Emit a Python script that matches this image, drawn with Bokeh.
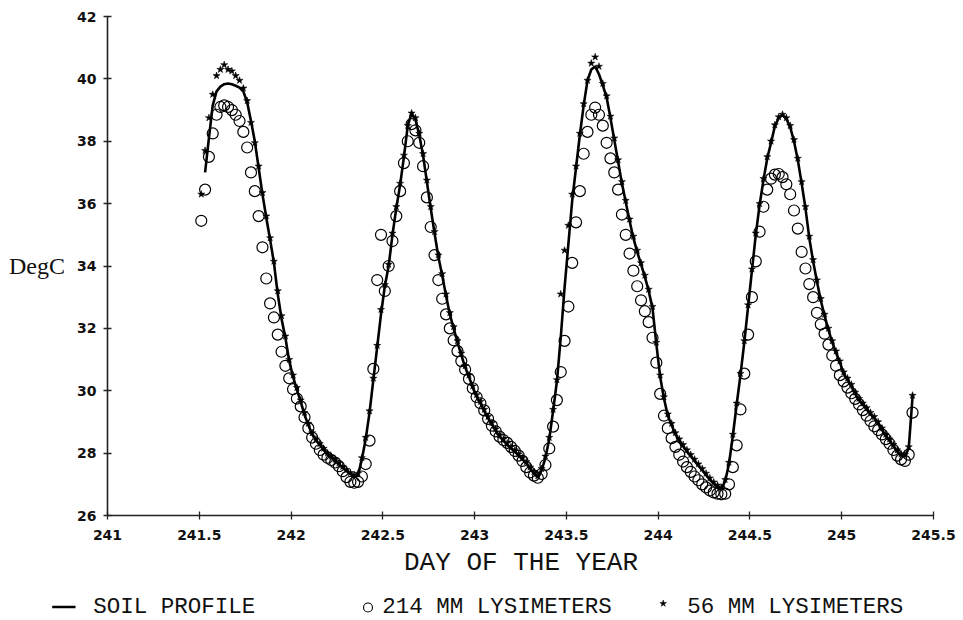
from bokeh.plotting import figure
from bokeh.models import Range1d, FixedTicker, ColumnDataSource, LinearAxis
from bokeh.core.properties import value
from bokeh.embed import file_html
from bokeh.resources import INLINE

# half-hourly sampling times (day of year)
day = [round(241.49 + k / 48, 4) for k in range(1, 188)]

soil_profile = [
    float("nan"), 37.0, 38.1, 39.15, 39.6, 39.75, 39.83, 39.85, 39.83, 39.78,
    39.72, 39.6, 39.25, 38.65, 38.0, 37.15, 36.3, 35.55, 34.85, 34.1,
    33.1, 32.3, 31.7, 30.95, 30.45, 30.03, 29.65, 29.23, 28.9, 28.6,
    28.42, 28.27, 28.1, 27.96, 27.86, 27.75, 27.64, 27.53, 27.43, 27.33,
    27.28, 27.3, 27.8, 28.45, 29.3, 30.35, 31.4, 32.45, 33.35, 34.0,
    35.0, 35.85, 36.6, 37.5, 38.5, 38.9, 38.7, 38.2, 37.55, 36.7,
    35.85, 35.05, 34.3, 33.7, 33.05, 32.45, 32.0, 31.55, 31.15, 30.75,
    30.45, 30.1, 29.82, 29.6, 29.35, 29.12, 28.92, 28.72, 28.53, 28.4,
    28.27, 28.15, 28.05, 27.92, 27.8, 27.68, 27.5, 27.35, 27.22, 27.45,
    27.85, 28.45, 29.35, 30.3, 31.7, 33.3, 34.7, 36.1, 37.15, 38.2,
    39.15, 39.95, 40.3, 40.4, 40.15, 39.8, 39.4, 38.75, 38.05, 37.35,
    36.65, 36.05, 35.45, 34.9, 34.45, 34.05, 33.65, 33.2, 32.65, 31.5,
    30.45, 29.75, 29.2, 28.9, 28.6, 28.4, 28.22, 28.05, 27.9, 27.75,
    27.6, 27.45, 27.3, 27.15, 27.02, 26.92, 26.85, 27.1, 27.65, 28.55,
    29.55, 30.5, 31.55, 32.7, 33.85, 35.0, 35.95, 36.75, 37.45, 37.95,
    38.48, 38.75, 38.84, 38.72, 38.45, 38.0, 37.4, 36.65, 35.85, 34.9,
    34.15, 33.5, 32.9, 32.4, 31.95, 31.55, 31.22, 30.9, 30.55, 30.35,
    30.15, 29.9, 29.7, 29.55, 29.4, 29.25, 29.12, 28.95, 28.75, 28.55,
    28.4, 28.22, 28.05, 27.92, 27.9, 28.15, 29.8,
]

lys_214 = [
    35.45, 36.45, 37.5, 38.25, 38.85, 39.1, 39.15, 39.1, 39.0, 38.85,
    38.65, 38.3, 37.8, 37.0, 36.4, 35.6, 34.6, 33.6, 32.8, 32.35,
    31.8, 31.25, 30.8, 30.4, 30.05, 29.75, 29.5, 29.15, 28.8, 28.5,
    28.3, 28.1, 27.95, 27.85, 27.78, 27.7, 27.58, 27.42, 27.23, 27.08,
    27.05, 27.08, 27.25, 27.65, 28.4, 30.7, 33.55, 35.0, 33.2, 34.0,
    34.8, 35.6, 36.4, 37.3, 38.0, 38.55, 38.35, 37.95, 37.2, 36.2,
    35.25, 34.35, 33.55, 32.95, 32.45, 32.0, 31.62, 31.27, 30.95, 30.68,
    30.38, 30.08, 29.8, 29.6, 29.37, 29.1, 28.88, 28.7, 28.53, 28.42,
    28.33, 28.2, 28.07, 27.92, 27.75, 27.55, 27.38, 27.28, 27.21, 27.33,
    27.62, 28.15, 28.85, 29.7, 30.6, 31.6, 32.7, 34.1, 35.4, 36.4,
    37.6, 38.3, 38.85, 39.08, 38.85, 38.5, 37.95, 37.45, 37.0, 36.45,
    35.65, 35.0, 34.4, 33.85, 33.35, 32.9, 32.55, 32.2, 31.7, 30.9,
    29.9, 29.2, 28.8, 28.48, 28.2, 27.95, 27.73, 27.55, 27.4, 27.25,
    27.13, 27.0, 26.9, 26.8, 26.74, 26.7, 26.68, 26.7, 27.0, 27.55,
    28.25, 29.4, 30.55, 31.8, 33.0, 34.15, 35.1, 35.9, 36.45, 36.8,
    36.93, 36.95, 36.85, 36.62, 36.3, 35.78, 35.2, 34.45, 33.92, 33.42,
    33.0, 32.5, 32.13, 31.83, 31.48, 31.13, 30.8, 30.5, 30.3, 30.1,
    29.92, 29.74, 29.56, 29.38, 29.2, 29.03, 28.86, 28.74, 28.6, 28.45,
    28.3, 28.1, 27.92, 27.8, 27.75, 27.95, 29.3,
]

lys_56 = [
    36.3, 37.7, 38.75, 39.5, 40.1, 40.3, 40.45, 40.3, 40.25, 40.1,
    39.95, 39.7, 39.3, 38.6, 37.95, 37.2, 36.35, 35.6, 34.9, 34.15,
    33.2, 32.4, 31.75, 31.0, 30.5, 30.1, 29.7, 29.3, 28.95, 28.65,
    28.45, 28.3, 28.15, 28.0, 27.9, 27.8, 27.68, 27.57, 27.47, 27.37,
    27.3, 27.35, 27.85, 28.5, 29.35, 30.4, 31.45, 32.6, 33.4, 34.05,
    35.05, 35.9, 36.65, 37.55, 38.5, 38.9, 38.75, 38.25, 37.6, 36.75,
    35.9, 35.1, 34.35, 33.75, 33.1, 32.5, 32.05, 31.6, 31.2, 30.8,
    30.5, 30.15, 29.87, 29.65, 29.4, 29.17, 28.97, 28.77, 28.58, 28.45,
    28.32, 28.2, 28.1, 27.97, 27.85, 27.72, 27.55, 27.4, 27.27, 27.5,
    27.9, 28.5, 29.4, 30.35, 33.1, 34.5, 35.3, 36.3, 37.2, 38.25,
    39.2, 39.95, 40.5, 40.7, 40.4, 39.85, 39.45, 38.8, 38.1, 37.4,
    36.7, 36.1, 35.5, 34.95, 34.5, 34.1, 33.7, 33.25, 32.7, 31.55,
    30.5, 29.8, 29.25, 28.95, 28.65, 28.45, 28.27, 28.1, 27.95, 27.8,
    27.65, 27.5, 27.35, 27.2, 27.07, 26.97, 26.9, 27.15, 27.7, 28.6,
    29.6, 30.55, 31.6, 32.75, 33.9, 35.05, 36.0, 36.8, 37.5, 38.0,
    38.52, 38.78, 38.86, 38.75, 38.5, 38.05, 37.45, 36.7, 35.9, 34.95,
    34.2, 33.55, 32.95, 32.45, 32.0, 31.6, 31.27, 30.95, 30.6, 30.4,
    30.2, 29.95, 29.75, 29.6, 29.45, 29.3, 29.17, 29.0, 28.8, 28.6,
    28.45, 28.27, 28.1, 27.97, 27.95, 28.2, 29.85,
]

x_ticks = [241, 241.5, 242, 242.5, 243, 243.5, 244, 244.5, 245, 245.5]
x_tick_labels = ["241", "241.5", "242", "242.5", "243", "243.5", "244", "244.5", "245", "245.5"]
y_ticks = [26, 28, 30, 32, 34, 36, 38, 40, 42]

x_title = "DAY OF THE YEAR"
y_title = "DegC"
legend_names = ["SOIL PROFILE", "214 MM LYSIMETERS", "56 MM LYSIMETERS"]

INK = "#111111"

# ---- page layout (pixels)
W, H = 963, 620
AX_L, AX_R, AX_T, AX_B = 107, 933, 16, 515      # where the axes box sits
X0, X1 = x_ticks[0], x_ticks[-1]
Y0, Y1 = y_ticks[0], y_ticks[-1]
kx = (X1 - X0) / (AX_R - AX_L)
ky = (Y1 - Y0) / (AX_B - AX_T)

p = figure(width=W, height=H,
           x_range=Range1d(X0 - AX_L * kx, X1 + (W - AX_R) * kx),
           y_range=Range1d(Y0 - (H - AX_B) * ky, Y1 + AX_T * ky),
           output_backend="svg", toolbar_location=None, title=None,
           x_axis_type=None, y_axis_type=None, min_border=0)
p.grid.visible = False
p.outline_line_color = None
p.background_fill_color = "white"
p.border_fill_color = "white"
p.extra_x_ranges = {"px": Range1d(0, W)}
p.extra_y_ranges = {"px": Range1d(H, 0)}

xax = LinearAxis(fixed_location=Y0, bounds=(X0, X1), ticker=FixedTicker(ticks=x_ticks))
xax.major_label_overrides = {float(t): s for t, s in zip(x_ticks, x_tick_labels)}
yax = LinearAxis(fixed_location=X0, bounds=(Y0, Y1), ticker=FixedTicker(ticks=y_ticks))
for ax in (xax, yax):
    ax.axis_line_color = "#222222"
    ax.axis_line_width = 1.6
    ax.major_tick_line_color = "#222222"
    ax.major_tick_line_width = 1.3
    ax.major_tick_in = 4
    ax.major_tick_out = 4
    ax.minor_tick_line_color = None
    ax.major_label_text_font = "DejaVu Sans"
    ax.major_label_text_font_style = "bold"
    ax.major_label_text_font_size = "14px"
    ax.major_label_text_color = INK
xax.major_label_standoff = 10
yax.major_label_standoff = 7
p.add_layout(xax, "below")
p.add_layout(yax, "left")

src = ColumnDataSource(dict(day=day, soil=soil_profile, l214=lys_214, l56=lys_56))
p.scatter("day", "l214", source=src, marker="circle", size=11, fill_color=None,
          line_color="black", line_width=1.2)
p.line("day", "soil", source=src, line_width=2.6, line_color="black")
p.scatter("day", "l56", source=src, marker="star", size=7.5, fill_color="black",
          line_color="black", line_width=0.5)

# ---- titles (pixel coordinates; y is the visual centre of the capitals)
p.text(x=[8.5], y=[265.5], text=[y_title], x_range_name="px", y_range_name="px",
       text_font=value("Liberation Serif"), text_font_size="24px", text_color=INK,
       text_align="left", text_baseline="alphabetic")
p.text(x=[520.5], y=[562], text=[x_title], x_range_name="px", y_range_name="px",
       text_font=value("Liberation Mono"), text_font_size="26px", text_color=INK,
       text_align="center", text_baseline="alphabetic")

# ---- legend row (pixel coordinates)
LEG_Y = 606.5
p.segment(x0=[51.7], y0=[LEG_Y], x1=[75], y1=[LEG_Y], x_range_name="px", y_range_name="px",
          line_width=2.6, line_color="black")
p.scatter(x=[367.5], y=[LEG_Y + 0.5], x_range_name="px", y_range_name="px", marker="circle",
          size=9, fill_color=None, line_color="black", line_width=1.1)
p.scatter(x=[662.7], y=[LEG_Y - 3.5], x_range_name="px", y_range_name="px", marker="star",
          size=7, fill_color="black", line_color="black", line_width=0.5)
p.text(x=[92.7, 381.7, 686.7], y=[LEG_Y] * 3, text=legend_names,
       x_range_name="px", y_range_name="px",
       text_font=value("Liberation Mono"), text_font_size="22.5px", text_color=INK,
       text_align="left", text_baseline="alphabetic")

open("out.html", "w").write(file_html(p, INLINE))
